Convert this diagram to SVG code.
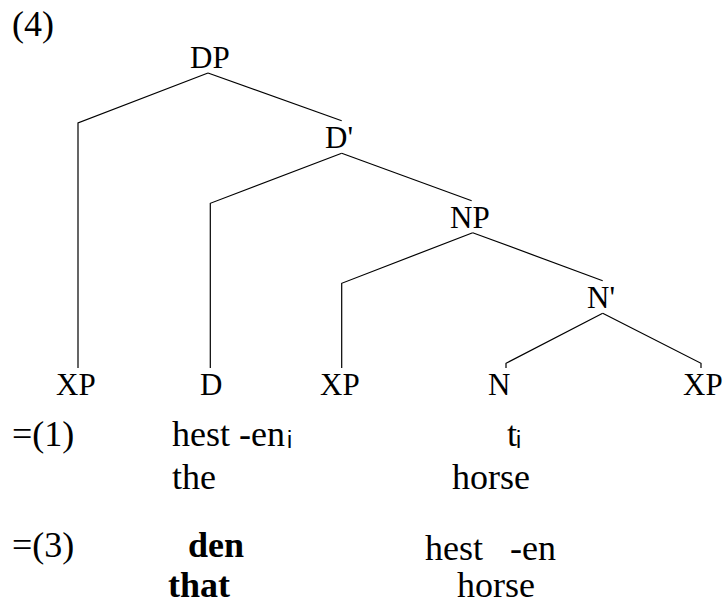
<svg xmlns="http://www.w3.org/2000/svg" width="724" height="605" viewBox="0 0 724 605">
<style>
text{font-family:"Liberation Serif",Tinos,"Times New Roman",Times,"DejaVu Serif",serif;fill:#000}
.lab{font-size:31px}
.txt{font-size:36px}
.b{font-weight:bold}
.sub{font-family:"Liberation Sans",Arial,sans-serif;font-size:23px}
.edge{fill:none;stroke:#000;stroke-width:1.2}
</style>
<rect width="724" height="605" fill="#fff"/>
<text class="txt" x="12" y="36">(4)</text>
<g id="connectors">
<polyline class="edge" points="208,73 78,123 78,368"/>
<polyline class="edge" points="208,73 341.7,120.7"/>
<polyline class="edge" points="341.7,153.3 210.3,203.3 210.3,368"/>
<polyline class="edge" points="341.7,153.3 471.7,200.7"/>
<polyline class="edge" points="472.7,232.7 341.7,283.3 341.7,368"/>
<polyline class="edge" points="472.7,232.7 602.7,280.7"/>
<polyline class="edge" points="602.7,313.3 506,363.3 506,368"/>
<polyline class="edge" points="602.7,313.3 701,363.3 701,368"/>
</g>
<g id="node-DP"><text class="lab" x="190" y="68">DP</text></g>
<g id="node-D1"><text class="lab" x="325" y="148">D'</text></g>
<g id="node-NP"><text class="lab" x="450" y="228">NP</text></g>
<g id="node-N1"><text class="lab" x="587" y="308">N'</text></g>
<g id="node-XP1"><text class="lab" x="56" y="395">XP</text></g>
<g id="node-D"><text class="lab" x="200" y="395">D</text></g>
<g id="node-XP2"><text class="lab" x="320" y="395">XP</text></g>
<g id="node-N"><text class="lab" x="488" y="395">N</text></g>
<g id="node-XP3"><text class="lab" x="683" y="395">XP</text></g>
<g id="gloss">
<text class="txt" x="12" y="446">=(1)</text>
<text class="txt" x="172" y="446">hest -en</text>
<text class="sub" x="287" y="448">i</text>
<text class="txt" x="507" y="446">t</text>
<text class="sub" x="516" y="448">i</text>
<text class="txt" x="172" y="489">the</text>
<text class="txt" x="452" y="489">horse</text>
<text class="txt" x="12" y="557">=(3)</text>
<text class="txt b" x="188" y="557">den</text>
<text class="txt" x="425" y="560">hest</text>
<text class="txt" x="510" y="560">-en</text>
<text class="txt b" x="168" y="597">that</text>
<text class="txt" x="457" y="597">horse</text>
</g>
</svg>
